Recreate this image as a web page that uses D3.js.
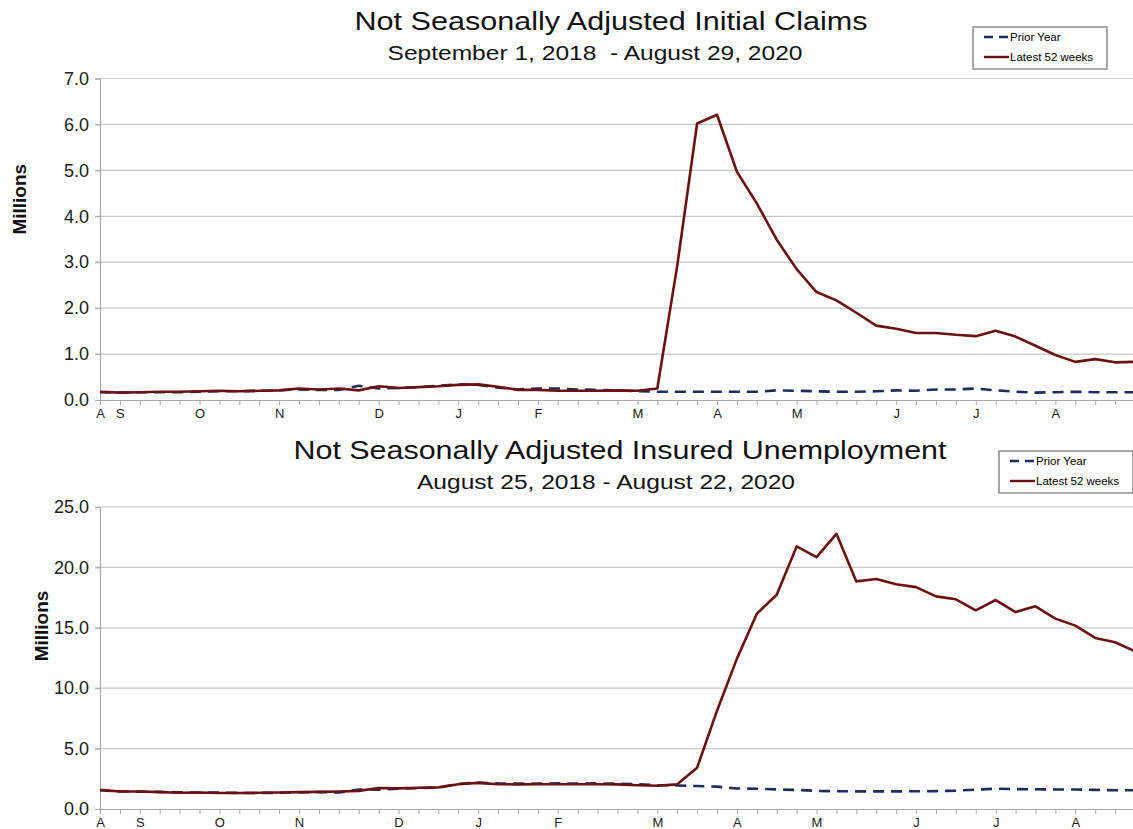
<!DOCTYPE html>
<html>
<head>
<meta charset="utf-8">
<script src="https://cdn.jsdelivr.net/npm/d3@7"></script>
<style>
  body { margin: 0; background: #fff; }
  text { font-family: "Liberation Sans", Arial, sans-serif; white-space: pre; }
</style>
</head>
<body>
<div id="chart"></div>
<script>
// initial claims, weekly, millions (53 weeks)
var claimsPrior = [0.17, 0.16, 0.17, 0.17, 0.17, 0.18, 0.19, 0.19, 0.20, 0.21,
  0.23, 0.22, 0.22, 0.31, 0.25, 0.26, 0.28, 0.31, 0.34, 0.33,
  0.27, 0.23, 0.25, 0.25, 0.23, 0.22, 0.21, 0.19, 0.18, 0.18,
  0.18, 0.18, 0.18, 0.18, 0.21, 0.20, 0.19, 0.18, 0.18, 0.19,
  0.21, 0.20, 0.23, 0.23, 0.25, 0.21, 0.18, 0.16, 0.17, 0.18,
  0.17, 0.17, 0.17];
var claimsLatest = [0.18, 0.16, 0.17, 0.18, 0.18, 0.19, 0.20, 0.19, 0.20, 0.21,
  0.25, 0.23, 0.25, 0.21, 0.30, 0.26, 0.28, 0.30, 0.33, 0.34,
  0.29, 0.22, 0.22, 0.20, 0.20, 0.20, 0.21, 0.20, 0.25, 2.92,
  6.02, 6.21, 4.97, 4.28, 3.49, 2.85, 2.35, 2.17, 1.90, 1.62,
  1.55, 1.46, 1.46, 1.42, 1.39, 1.51, 1.38, 1.18, 0.98, 0.83,
  0.89, 0.82, 0.83];
var claimsMonthIdx = [0, 1, 5, 9, 14, 18, 22, 27, 31, 35, 40, 44, 48];
var claimsMonthLbl = ["A", "S", "O", "N", "D", "J", "F", "M", "A", "M", "J", "J", "A"];
var claimsYTicks = [0, 1, 2, 3, 4, 5, 6, 7];

// insured unemployment, weekly, millions (53 weeks)
var insuredPrior = [1.55, 1.45, 1.44, 1.42, 1.38, 1.36, 1.36, 1.33, 1.33, 1.34,
  1.38, 1.40, 1.36, 1.62, 1.60, 1.68, 1.72, 1.78, 2.08, 2.18,
  2.12, 2.10, 2.10, 2.12, 2.10, 2.12, 2.10, 2.05, 1.98, 1.95,
  1.90, 1.85, 1.70, 1.68, 1.62, 1.58, 1.50, 1.47, 1.46, 1.46,
  1.46, 1.47, 1.48, 1.52, 1.60, 1.68, 1.65, 1.63, 1.62, 1.62,
  1.58, 1.55, 1.55];
var insuredLatest = [1.58, 1.45, 1.45, 1.40, 1.34, 1.37, 1.32, 1.32, 1.34, 1.36,
  1.40, 1.42, 1.45, 1.50, 1.74, 1.71, 1.76, 1.79, 2.05, 2.16,
  2.05, 2.04, 2.05, 2.05, 2.05, 2.05, 2.04, 1.97, 1.93, 2.04,
  3.42, 8.13, 12.45, 16.17, 17.74, 21.74, 20.85, 22.78, 18.84, 19.04,
  18.60, 18.37, 17.60, 17.36, 16.45, 17.30, 16.30, 16.78, 15.76, 15.18,
  14.16, 13.80, 13.05];
var insuredMonthIdx = [0, 2, 6, 10, 15, 19, 23, 28, 32, 36, 41, 45, 49];
var insuredMonthLbl = ["A", "S", "O", "N", "D", "J", "F", "M", "A", "M", "J", "J", "A"];
var insuredYTicks = [0, 5, 10, 15, 20, 25];

var width = 1133, height = 829;
var redColor = "#6c1111", blueColor = "#1d2b5e";

var svg = d3.select("#chart").append("svg")
  .attr("width", width)
  .attr("height", height);

function drawPanel(p) {
  var x = d3.scaleLinear().domain([0, p.prior.length - 1]).range([100, 1135]);
  var y = d3.scaleLinear().domain(p.yDomain).range([p.bottom, p.top]);
  var g = svg.append("g");

  // gridlines
  g.selectAll(".grid").data(p.yTicks.filter(function (d) { return d > 0; }))
    .enter().append("line")
    .attr("x1", 95).attr("x2", width)
    .attr("y1", function (d) { return y(d); })
    .attr("y2", function (d) { return y(d); })
    .style("stroke", "#c6c6c6").style("stroke-width", 1.2);

  // y axis
  var yAxis = g.append("g")
    .attr("transform", "translate(100,0)")
    .call(d3.axisLeft(y).tickValues(p.yTicks).tickFormat(d3.format(".1f")).tickSize(5).tickPadding(6));
  yAxis.select(".domain").style("stroke", "#a8a8a8").style("stroke-width", 1.2);
  yAxis.selectAll(".tick line").style("stroke", "#a8a8a8");
  yAxis.selectAll("text").style("font-size", "18px").style("fill", "#1a1a1a")
    .style("font-family", "'Liberation Sans', Arial, sans-serif");

  // x axis: one tick per week, month letters at the first week of a month
  var xAxis = g.append("g")
    .attr("transform", "translate(0," + p.bottom + ")")
    .call(d3.axisBottom(x).tickValues(d3.range(p.prior.length)).tickSize(5)
      .tickFormat(function (d) {
        var k = p.monthIdx.indexOf(d);
        return k >= 0 ? p.monthLbl[k] : "";
      }).tickPadding(4));
  xAxis.select(".domain").style("stroke", "#a8a8a8").style("stroke-width", 1.2);
  xAxis.selectAll(".tick line").style("stroke", "#a8a8a8");
  xAxis.selectAll("text").style("font-size", "13px").style("fill", "#1a1a1a")
    .style("font-family", "'Liberation Sans', Arial, sans-serif");

  var line = d3.line()
    .x(function (d, i) { return x(i); })
    .y(function (d) { return y(d); });

  g.append("path").datum(p.prior)
    .attr("d", line)
    .style("fill", "none").style("stroke", blueColor)
    .style("stroke-width", 2.6).style("stroke-dasharray", "11,7");

  g.append("path").datum(p.latest)
    .attr("d", line)
    .style("fill", "none").style("stroke", redColor)
    .style("stroke-width", 2.6).style("stroke-linejoin", "round");

  // titles
  g.append("text").attr("x", p.titleX).attr("y", p.titleY)
    .attr("text-anchor", "middle").style("font-size", "26px").style("fill", "#111")
    .attr("textLength", p.titleW).attr("lengthAdjust", "spacingAndGlyphs")
    .text(p.title);
  g.append("text").attr("x", p.subX).attr("y", p.titleY + 30)
    .attr("text-anchor", "middle").style("font-size", "20px").style("fill", "#111")
    .attr("textLength", p.subW).attr("lengthAdjust", "spacingAndGlyphs")
    .text(p.subtitle);

  // y label
  g.append("text")
    .attr("transform", "translate(" + p.labelX + "," + ((p.top + p.bottom) / 2 + p.labelDy) + ") rotate(-90)")
    .attr("text-anchor", "middle").style("font-size", "19px").style("font-weight", "bold")
    .style("fill", "#111").text("Millions");

  // legend
  var lg = g.append("g").attr("transform", "translate(" + p.legX + "," + p.legY + ")");
  lg.append("rect").attr("width", 134).attr("height", 42)
    .style("fill", "#fff").style("stroke", "#555").style("stroke-width", 1);
  lg.append("line").attr("x1", 11).attr("x2", 36).attr("y1", 10).attr("y2", 10)
    .style("stroke", blueColor).style("stroke-width", 2.4).style("stroke-dasharray", "9,6");
  lg.append("line").attr("x1", 11).attr("x2", 36).attr("y1", 30).attr("y2", 30)
    .style("stroke", redColor).style("stroke-width", 2.4);
  lg.append("text").attr("x", 37).attr("y", 14).style("font-size", "11.5px").text("Prior Year");
  lg.append("text").attr("x", 37).attr("y", 34).style("font-size", "11.5px").text("Latest 52 weeks");
}

drawPanel({
  prior: claimsPrior, latest: claimsLatest,
  monthIdx: claimsMonthIdx, monthLbl: claimsMonthLbl,
  yTicks: claimsYTicks, yDomain: [0, 7], top: 78.5, bottom: 400,
  title: "Not Seasonally Adjusted Initial Claims",
  subtitle: "September 1, 2018  - August 29, 2020",
  titleX: 611, subX: 595, titleY: 30, titleW: 513, subW: 415,
  labelX: 26, labelDy: -40,
  legX: 973, legY: 27
});

drawPanel({
  prior: insuredPrior, latest: insuredLatest,
  monthIdx: insuredMonthIdx, monthLbl: insuredMonthLbl,
  yTicks: insuredYTicks, yDomain: [0, 25], top: 507, bottom: 809,
  title: "Not Seasonally Adjusted Insured Unemployment",
  subtitle: "August 25, 2018 - August 22, 2020",
  titleX: 620, subX: 606, titleY: 459, titleW: 653, subW: 378,
  labelX: 48, labelDy: -32,
  legX: 999, legY: 451
});
</script>
</body>
</html>
